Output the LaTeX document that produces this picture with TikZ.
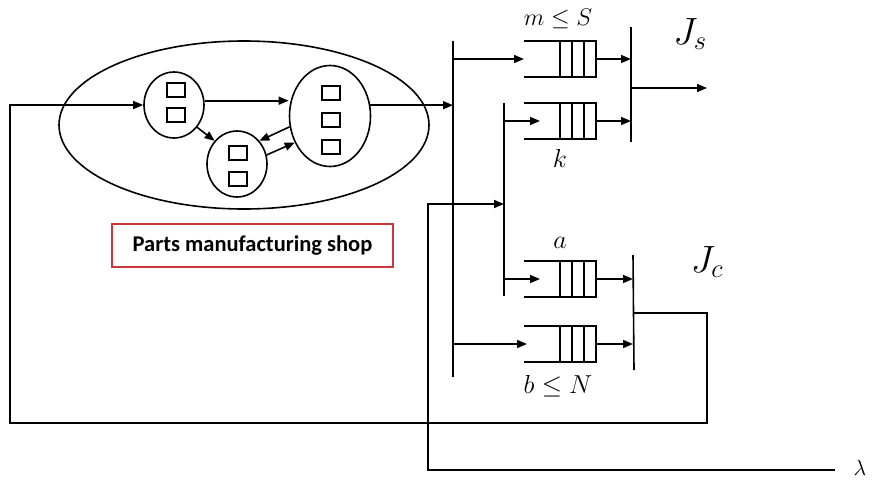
\RequirePackage{fix-cm}
\documentclass[tikz,border=0pt]{standalone}
\usepackage{fontspec}
\newfontfamily\carlito{Carlito}
\usetikzlibrary{shapes.geometric,arrows.meta,calc}
\definecolor{boxred}{RGB}{205,55,55}
\begin{document}
\begin{tikzpicture}[x=1pt,y=-1pt,line width=1.6pt,
  arr/.style={-{Triangle[length=10pt,width=8pt]}},
  stn/.style={ellipse,draw,inner sep=0pt},
  sq/.style={draw,minimum width=18pt,minimum height=14pt,inner sep=0pt,line width=1.3pt},
  lbl/.style={inner sep=0pt,font=\fontsize{26}{30}\selectfont},
  big/.style={inner sep=0pt,font=\fontsize{38}{42}\selectfont},
  queue/.pic={
    \draw (0,0) -- (72,0) -- (72,36) -- (0,36);
    \draw (36,0) -- (36,36) (48,0) -- (48,36) (60,0) -- (60,36);
    \coordinate (-in) at (0,18);
    \coordinate (-out) at (72,18);
  }]
\useasboundingbox (0,0) rectangle (877,479);

% shop
\node[stn,minimum width=370pt,minimum height=168pt] (shop) at (244,125) {};
\node[stn,minimum width=60pt,minimum height=66pt] (c1) at (174,105) {};
\node[stn,minimum width=60pt,minimum height=66pt] (c2) at (237,164) {};
\node[stn,minimum width=81pt,minimum height=101pt] (c3) at (330,116) {};
\node[sq] (s11) at (176,90) {};
\node[sq] (s12) at (176,115) {};
\node[sq] (s21) at (238,153) {};
\node[sq] (s22) at (238,179) {};
\node[sq] (s31) at (331,93) {};
\node[sq] (s32) at (331,120) {};
\node[sq] (s33) at (331,147) {};

\draw[arr] (c1.8) -- (c1.8 -| c3.west);
\draw[arr] (c1.-44) -- (c2.134);
\draw[arr] (c3.-165) -- (c2.46);
\draw[arr] (c2.17) -- (c3.-143);

\node[draw=boxred,line width=1.4pt,minimum width=281pt,minimum height=43pt,
  font=\carlito\bfseries\fontsize{22.5}{26}\selectfont] (pms) at (252.5,245.5) {Parts manufacturing shop};

% bars
\coordinate (b1t) at (453,41);  \coordinate (b1b) at (453,377);
\coordinate (b2t) at (504,103); \coordinate (b2b) at (504,296);
\coordinate (b3t) at (631,27);  \coordinate (b3b) at (631,142);
\coordinate (b4t) at (633,255); \coordinate (b4b) at (634,370);
\draw (b1t) -- (b1b);
\draw (b2t) -- (b2b);
\draw (b3t) -- (b3b);
\draw (b4t) -- (b4b);

% queues
\pic (q1) at (524,41) {queue};
\pic (q2) at (524,103) {queue};
\pic (q3) at (524,261) {queue};
\pic (q4) at (524,326) {queue};

\draw[arr] (c3.15) -- (c3.15 -| b1t);
\draw[arr] (b1t |- q1-in) -- (q1-in);
\draw[arr] (b1t |- q4-in) -- ([xshift=3pt]q4-in);
\draw[arr] (b2t |- q2-in) -- ([xshift=16pt]q2-in);
\draw[arr] (b2t |- q3-in) -- ([xshift=16pt]q3-in);
\draw[arr] (q1-out) -- (q1-out -| b3t);
\draw[arr] (q2-out) -- (q2-out -| b3t);
\draw[arr] (q3-out) -- (q3-out -| b4t);
\draw[arr] (q4-out) -- (q4-out -| b4t);

\coordinate (jsout) at (707,88);
\draw[arr] (b3t |- jsout) -- (jsout);

% feedback
\coordinate (fb1) at (707,313);
\coordinate (fb2) at (707,423);
\coordinate (fb3) at (10,423);
\draw[arr] (b4t |- fb1) -- (fb1) -- (fb2) -- (fb3) |- (c1.west);

% lambda
\node[inner sep=0pt,font=\fontsize{22}{26}\selectfont] (lam) at (860,468) {$\lambda$};
\coordinate (lamend) at (835,470);
\coordinate (lamcorner) at (428,470);
\coordinate (b2in) at (504,204);
\draw[arr] (lamend) -- (lamcorner) |- (b2in);

% labels
\node[inner sep=0pt,font=\fontsize{24}{28}\selectfont] (ms) at (558,19) {$m \le S$};
\node[lbl] (kl) at (560,158) {$k$};
\node[lbl] (al) at (560,243) {$a$};
\node[lbl] (bl) at (558,386) {$b \le N$};
\node[big] (js) at (690,34) {$J_s$};
\node[big] (jc) at (707,262) {$J_c$};
\end{tikzpicture}
\end{document}
